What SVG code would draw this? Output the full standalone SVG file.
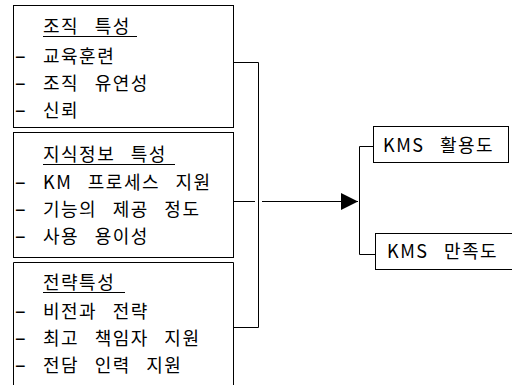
<svg xmlns="http://www.w3.org/2000/svg" width="512" height="385" viewBox="0 0 512 385">
<style>
.box{fill:#fff;stroke:#000;stroke-width:1}
.t{font-family:"Noto Sans CJK KR","Noto Sans",sans-serif;font-size:18px;letter-spacing:1.5px;word-spacing:10px;fill:#000}
.d{font-family:"Liberation Sans",sans-serif;letter-spacing:0}
.ul{stroke:#000;stroke-width:1}
.c{fill:none;stroke:#000;stroke-width:1}
</style>
<defs>
<marker id="ah" markerWidth="17" markerHeight="17" refX="17" refY="8.5" orient="auto" markerUnits="userSpaceOnUse">
<path d="M0,0 L17,8.5 L0,17 Z" fill="#000"/>
</marker>
</defs>
<rect width="512" height="385" fill="#fff"/>
<g id="connectors">
<path class="c" d="M233.5,62.5 H258.5 V327.5 H233.5"/>
<path class="c" d="M233.5,201.5 H255"/>
<path class="c" d="M262,201.5 H358" marker-end="url(#ah)"/>
<path class="c" d="M373.5,146.5 H359.5 V254.5 H375.5"/>
</g>
<g id="org">
<rect class="box" x="13.5" y="5.5" width="220" height="122"/>
<text class="t" x="43" y="33">조직 특성</text>
<line class="ul" x1="43" y1="36.5" x2="137" y2="36.5"/>
<text class="t"><tspan class="d" x="15" y="63">−</tspan><tspan x="43" y="63">교육훈련</tspan></text>
<text class="t"><tspan class="d" x="15" y="90">−</tspan><tspan x="43" y="90">조직 유연성</tspan></text>
<text class="t"><tspan class="d" x="15" y="117">−</tspan><tspan x="43" y="117">신뢰</tspan></text>
</g>
<g id="info">
<rect class="box" x="13.5" y="132.5" width="220" height="125"/>
<text class="t" x="43" y="161">지식정보 특성</text>
<line class="ul" x1="43" y1="164.5" x2="175" y2="164.5"/>
<text class="t"><tspan class="d" x="15" y="189">−</tspan><tspan x="43" y="189">KM 프로세스 지원</tspan></text>
<text class="t"><tspan class="d" x="15" y="216">−</tspan><tspan x="43" y="216">기능의 제공 정도</tspan></text>
<text class="t"><tspan class="d" x="15" y="243">−</tspan><tspan x="43" y="243">사용 용이성</tspan></text>
</g>
<g id="strategy">
<path class="box" d="M13.5,390 V262.5 H233.5 V390"/>
<text class="t" x="43" y="289">전략특성</text>
<line class="ul" x1="43" y1="292.5" x2="125" y2="292.5"/>
<text class="t"><tspan class="d" x="15" y="318">−</tspan><tspan x="43" y="318">비전과 전략</tspan></text>
<text class="t"><tspan class="d" x="15" y="345">−</tspan><tspan x="43" y="345">최고 책임자 지원</tspan></text>
<text class="t"><tspan class="d" x="15" y="372">−</tspan><tspan x="43" y="372">전담 인력 지원</tspan></text>
</g>
<g id="kms-use">
<rect class="box" x="373.5" y="126.5" width="135" height="36"/>
<text class="t" x="383" y="152">KMS 활용도</text>
</g>
<g id="kms-sat">
<rect class="box" x="375.5" y="233.5" width="140" height="36"/>
<text class="t" x="387" y="258">KMS 만족도</text>
</g>
</svg>
